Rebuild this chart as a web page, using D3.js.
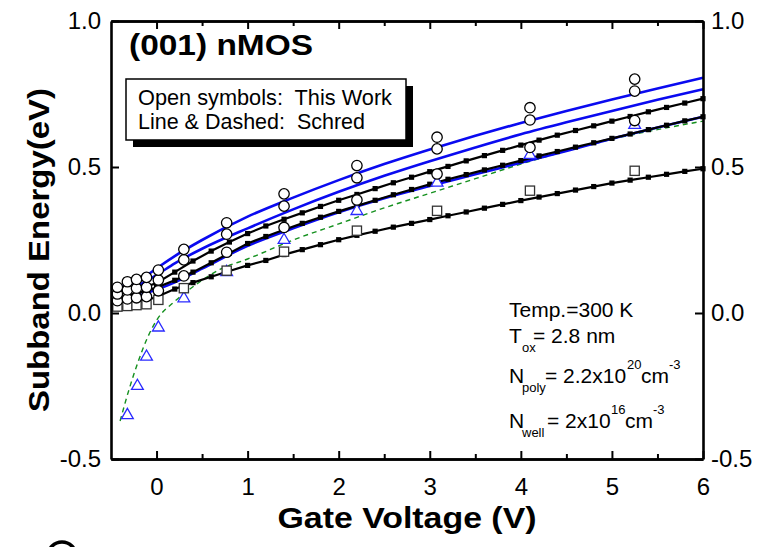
<!DOCTYPE html>
<html>
<head>
<meta charset="utf-8">
<script src="https://cdn.jsdelivr.net/npm/d3@7"></script>
<style>
  body { margin: 0; background: #fff; }
  text { font-family: Arial, "Liberation Sans", sans-serif; fill: #000; }
</style>
</head>
<body>
<div id="chart"></div>
<script>
// Schred runs: gate voltage grid (the small black squares sit on these)
const vgSchred = [-0.4, -0.2, 0.0, 0.2, 0.4, 0.6, 0.8, 1.0, 1.2, 1.4, 1.6, 1.8, 2.0, 2.2, 2.4, 2.6, 2.8,
                  3.0, 3.2, 3.4, 3.6, 3.8, 4.0, 4.2, 4.4, 4.6, 4.8, 5.0, 5.2, 5.4, 5.6, 5.8, 6.0];
const black1 = [0.068, 0.080, 0.103, 0.140, 0.178, 0.212, 0.243, 0.272, 0.298, 0.321, 0.343, 0.365, 0.386, 0.406, 0.426, 0.446, 0.465,
                0.484, 0.502, 0.521, 0.539, 0.557, 0.575, 0.592, 0.609, 0.625, 0.641, 0.657, 0.673, 0.689, 0.704, 0.719, 0.734];
const black2 = [0.056, 0.068, 0.087, 0.112, 0.140, 0.172, 0.205, 0.238, 0.262, 0.285, 0.307, 0.328, 0.348, 0.367, 0.386, 0.405, 0.423,
                0.441, 0.458, 0.474, 0.490, 0.506, 0.522, 0.538, 0.553, 0.568, 0.583, 0.598, 0.613, 0.628, 0.643, 0.658, 0.672];
const black3 = [0.015, 0.035, 0.055, 0.082, 0.104, 0.124, 0.144, 0.163, 0.180, 0.200, 0.217, 0.234, 0.251, 0.266, 0.280, 0.294, 0.307,
                0.320, 0.333, 0.346, 0.359, 0.372, 0.385, 0.397, 0.409, 0.421, 0.433, 0.445, 0.455, 0.465, 0.475, 0.485, 0.494];

// Schred blue curves
const vgBlue = [-0.4, -0.2, 0.0, 0.2, 0.5, 1.0, 1.5, 2.0, 2.5, 3.0, 3.5, 4.0, 4.5, 5.0, 5.5, 6.0];
const blue1 = [0.090, 0.110, 0.153, 0.195, 0.250, 0.330, 0.395, 0.455, 0.510, 0.560, 0.607, 0.651, 0.692, 0.731, 0.769, 0.806];
const blue2 = [0.075, 0.095, 0.130, 0.170, 0.220, 0.290, 0.355, 0.415, 0.470, 0.520, 0.567, 0.612, 0.653, 0.692, 0.730, 0.766];
const blue3 = [0.050, 0.060, 0.080, 0.105, 0.152, 0.230, 0.290, 0.345, 0.393, 0.435, 0.475, 0.515, 0.555, 0.597, 0.635, 0.672];

// Schred dashed (green)
const vgDashed = [-0.4, -0.3, -0.2, -0.1, 0.0, 0.2, 0.4, 0.7, 1.0, 1.5, 2.0, 2.5, 3.0, 3.5, 4.0, 4.5, 5.0, 5.5, 6.0];
const dashed = [-0.37, -0.26, -0.165, -0.085, -0.025, 0.040, 0.090, 0.150, 0.185, 0.250, 0.305, 0.360, 0.410, 0.460, 0.510, 0.555, 0.595, 0.628, 0.657];

// This work: open symbols
const vgWork = [-0.43, -0.32, -0.22, -0.11, 0.02, 0.30, 0.77, 1.40, 2.20, 3.08, 4.10, 5.25];
const circlesTop = [0.088, 0.107, 0.115, 0.122, 0.147, 0.218, 0.309, 0.408, 0.505, 0.602, 0.703, 0.801];
const circlesMid = [0.065, 0.079, 0.085, 0.088, 0.113, 0.182, 0.270, 0.366, 0.463, 0.562, 0.661, 0.760];
const circlesLow = [0.042, 0.048, 0.052, 0.056, 0.076, 0.127, 0.208, 0.293, 0.387, 0.476, 0.567, 0.659];
const squares    = [0.022, 0.024, 0.027, 0.030, 0.045, 0.085, 0.145, 0.210, 0.282, 0.350, 0.419, 0.487];
const vgTri = [-0.32, -0.21, -0.11, 0.02, 0.30, 0.77, 1.40, 2.20, 3.08, 4.10, 5.25];
const triangles = [-0.35, -0.25, -0.15, -0.05, 0.05, 0.14, 0.25, 0.349, 0.446, 0.541, 0.644];

const xMajor = [0, 1, 2, 3, 4, 5, 6];
const xMinor = [0.5, 1.5, 2.5, 3.5, 4.5, 5.5];
const yMajor = [-0.5, 0.0, 0.5, 1.0];

const margin = {top: 21, right: 55, bottom: 88, left: 111},
    width = 758 - margin.left - margin.right,
    height = 547 - margin.top - margin.bottom;

const root = d3.select("#chart")
  .append("svg")
    .attr("width", 758)
    .attr("height", 547);

const svg = root.append("g")
    .attr("transform", `translate(${margin.left},${margin.top})`);

const x = d3.scaleLinear().domain([-0.5, 6]).range([0, width]);
const y = d3.scaleLinear().domain([-0.5, 1.0]).range([height, 0]);

const zip = (xs, ys) => xs.map((v, i) => [v, ys[i]]);

// dashed green
svg.append("path")
  .datum(zip(vgDashed, dashed))
  .attr("d", d3.line().x(d => x(d[0])).y(d => y(d[1])).curve(d3.curveMonotoneX))
  .attr("fill", "none")
  .attr("stroke", "#14901e")
  .attr("stroke-width", 1.4)
  .attr("stroke-dasharray", "5,4");

// blue curves
[blue1, blue2, blue3].forEach(s => {
  svg.append("path")
    .datum(zip(vgBlue, s))
    .attr("d", d3.line().x(d => x(d[0])).y(d => y(d[1])).curve(d3.curveMonotoneX))
    .attr("fill", "none")
    .attr("stroke", "#0a0af0")
    .attr("stroke-width", 2.6);
});

// black curves with small filled squares
[black1, black2, black3].forEach(s => {
  const pts = zip(vgSchred, s);
  svg.append("path")
    .datum(pts)
    .attr("d", d3.line().x(d => x(d[0])).y(d => y(d[1])))
    .attr("fill", "none")
    .attr("stroke", "#000")
    .attr("stroke-width", 2.2);
  svg.append("g")
    .selectAll("rect")
    .data(pts)
    .join("rect")
      .attr("x", d => x(d[0]) - 2.6)
      .attr("y", d => y(d[1]) - 2.6)
      .attr("width", 5.2)
      .attr("height", 5.2)
      .attr("fill", "#000");
});

// triangles
svg.append("g")
  .selectAll("path")
  .data(zip(vgTri, triangles))
  .join("path")
    .attr("d", d3.symbol().type(d3.symbolTriangle).size(60))
    .attr("transform", d => `translate(${x(d[0])},${y(d[1])})`)
    .attr("fill", "#fff")
    .attr("stroke", "#2a2aff")
    .attr("stroke-width", 1.3);

// open squares
svg.append("g")
  .selectAll("rect")
  .data(zip(vgWork, squares))
  .join("rect")
    .attr("x", d => x(d[0]) - 4.6)
    .attr("y", d => y(d[1]) - 4.6)
    .attr("width", 9.2)
    .attr("height", 9.2)
    .attr("fill", "#fff")
    .attr("stroke", "#333")
    .attr("stroke-width", 1.3);

// open circles
[circlesLow, circlesMid, circlesTop].forEach(s => {
  svg.append("g")
    .selectAll("circle")
    .data(zip(vgWork, s))
    .join("circle")
      .attr("cx", d => x(d[0]))
      .attr("cy", d => y(d[1]))
      .attr("r", 5.2)
      .attr("fill", "#fff")
      .attr("stroke", "#000")
      .attr("stroke-width", 1.3);
});

// axes (ticks pointing inwards)
const fmt = d => d.toFixed(1);
const styleAxis = g => {
  g.select(".domain").attr("stroke-width", 2.6);
  g.selectAll(".tick line").attr("stroke-width", 2);
  g.selectAll("text").style("font-size", "24px").attr("font-family", null);
};

svg.append("g")
  .attr("transform", `translate(0,${height})`)
  .call(d3.axisBottom(x).tickValues(xMajor).tickSize(-8).tickSizeOuter(0).tickPadding(19).tickFormat(d3.format("d")))
  .call(styleAxis);
svg.append("g")
  .attr("transform", `translate(0,${height})`)
  .call(d3.axisBottom(x).tickValues(xMinor).tickSize(-5).tickSizeOuter(0).tickFormat(""))
  .call(styleAxis);
svg.append("g")
  .call(d3.axisTop(x).tickValues(xMajor).tickSize(-8).tickSizeOuter(0).tickFormat(""))
  .call(styleAxis);
svg.append("g")
  .call(d3.axisTop(x).tickValues(xMinor).tickSize(-5).tickSizeOuter(0).tickFormat(""))
  .call(styleAxis);
svg.append("g")
  .call(d3.axisLeft(y).tickValues(yMajor).tickSize(-8).tickSizeOuter(0).tickPadding(10).tickFormat(fmt))
  .call(styleAxis);
svg.append("g")
  .attr("transform", `translate(${width},0)`)
  .call(d3.axisRight(y).tickValues(yMajor).tickSize(-8).tickSizeOuter(0).tickPadding(8).tickFormat(fmt))
  .call(styleAxis);

// title inside the plot
root.append("text")
  .attr("x", 129).attr("y", 55)
  .attr("textLength", 184).attr("lengthAdjust", "spacingAndGlyphs")
  .style("font-size", "29px").style("font-weight", "bold")
  .text("(001) nMOS");

// legend box with drop shadow
root.append("rect")
  .attr("x", 133).attr("y", 86).attr("width", 280).attr("height", 61)
  .attr("fill", "#000");
root.append("rect")
  .attr("x", 126).attr("y", 79).attr("width", 280).attr("height", 61)
  .attr("fill", "#fff").attr("stroke", "#000").attr("stroke-width", 1.5);
root.append("text")
  .attr("x", 138).attr("y", 105)
  .attr("textLength", 254).attr("lengthAdjust", "spacingAndGlyphs")
  .style("font-size", "22px").style("white-space", "pre")
  .text("Open symbols:  This Work");
root.append("text")
  .attr("x", 138).attr("y", 129)
  .attr("textLength", 227).attr("lengthAdjust", "spacingAndGlyphs")
  .style("font-size", "22px").style("white-space", "pre")
  .text("Line & Dashed:  Schred");

// conditions
const note = (tx, ty, str, size) => root.append("text")
  .attr("x", tx).attr("y", ty).style("font-size", size + "px").style("white-space", "pre").text(str);
note(509, 317, "Temp.=300 K", 21);
note(509, 343, "T", 21);
note(522, 352, "ox", 13);
note(533, 343, "= 2.8 nm", 21);
note(509, 383, "N", 21);
note(522, 392, "poly", 13);
note(545, 383, "= 2.2x10", 21);
note(627, 369, "20", 13);
note(641, 383, "cm", 21);
note(669, 369, "-3", 13);
note(509, 428, "N", 21);
note(522, 437, "well", 13);
note(547, 428, "= 2x10", 21);
note(611, 414, "16", 13);
note(625, 428, "cm", 21);
note(653, 414, "-3", 13);

// axis titles
root.append("text")
  .attr("x", 407).attr("y", 528)
  .attr("text-anchor", "middle")
  .attr("textLength", 259).attr("lengthAdjust", "spacingAndGlyphs")
  .style("font-size", "30px").style("font-weight", "bold")
  .text("Gate Voltage (V)");
root.append("text")
  .attr("transform", "translate(49,250) rotate(-90)")
  .attr("text-anchor", "middle")
  .attr("textLength", 324).attr("lengthAdjust", "spacingAndGlyphs")
  .style("font-size", "29px").style("font-weight", "bold")
  .text("Subband Energy(eV)");

// fragment of a panel mark cut off at the bottom edge
root.append("circle")
  .attr("cx", 62).attr("cy", 556).attr("r", 14)
  .attr("fill", "none").attr("stroke", "#000").attr("stroke-width", 3.5);
</script>
</body>
</html>
